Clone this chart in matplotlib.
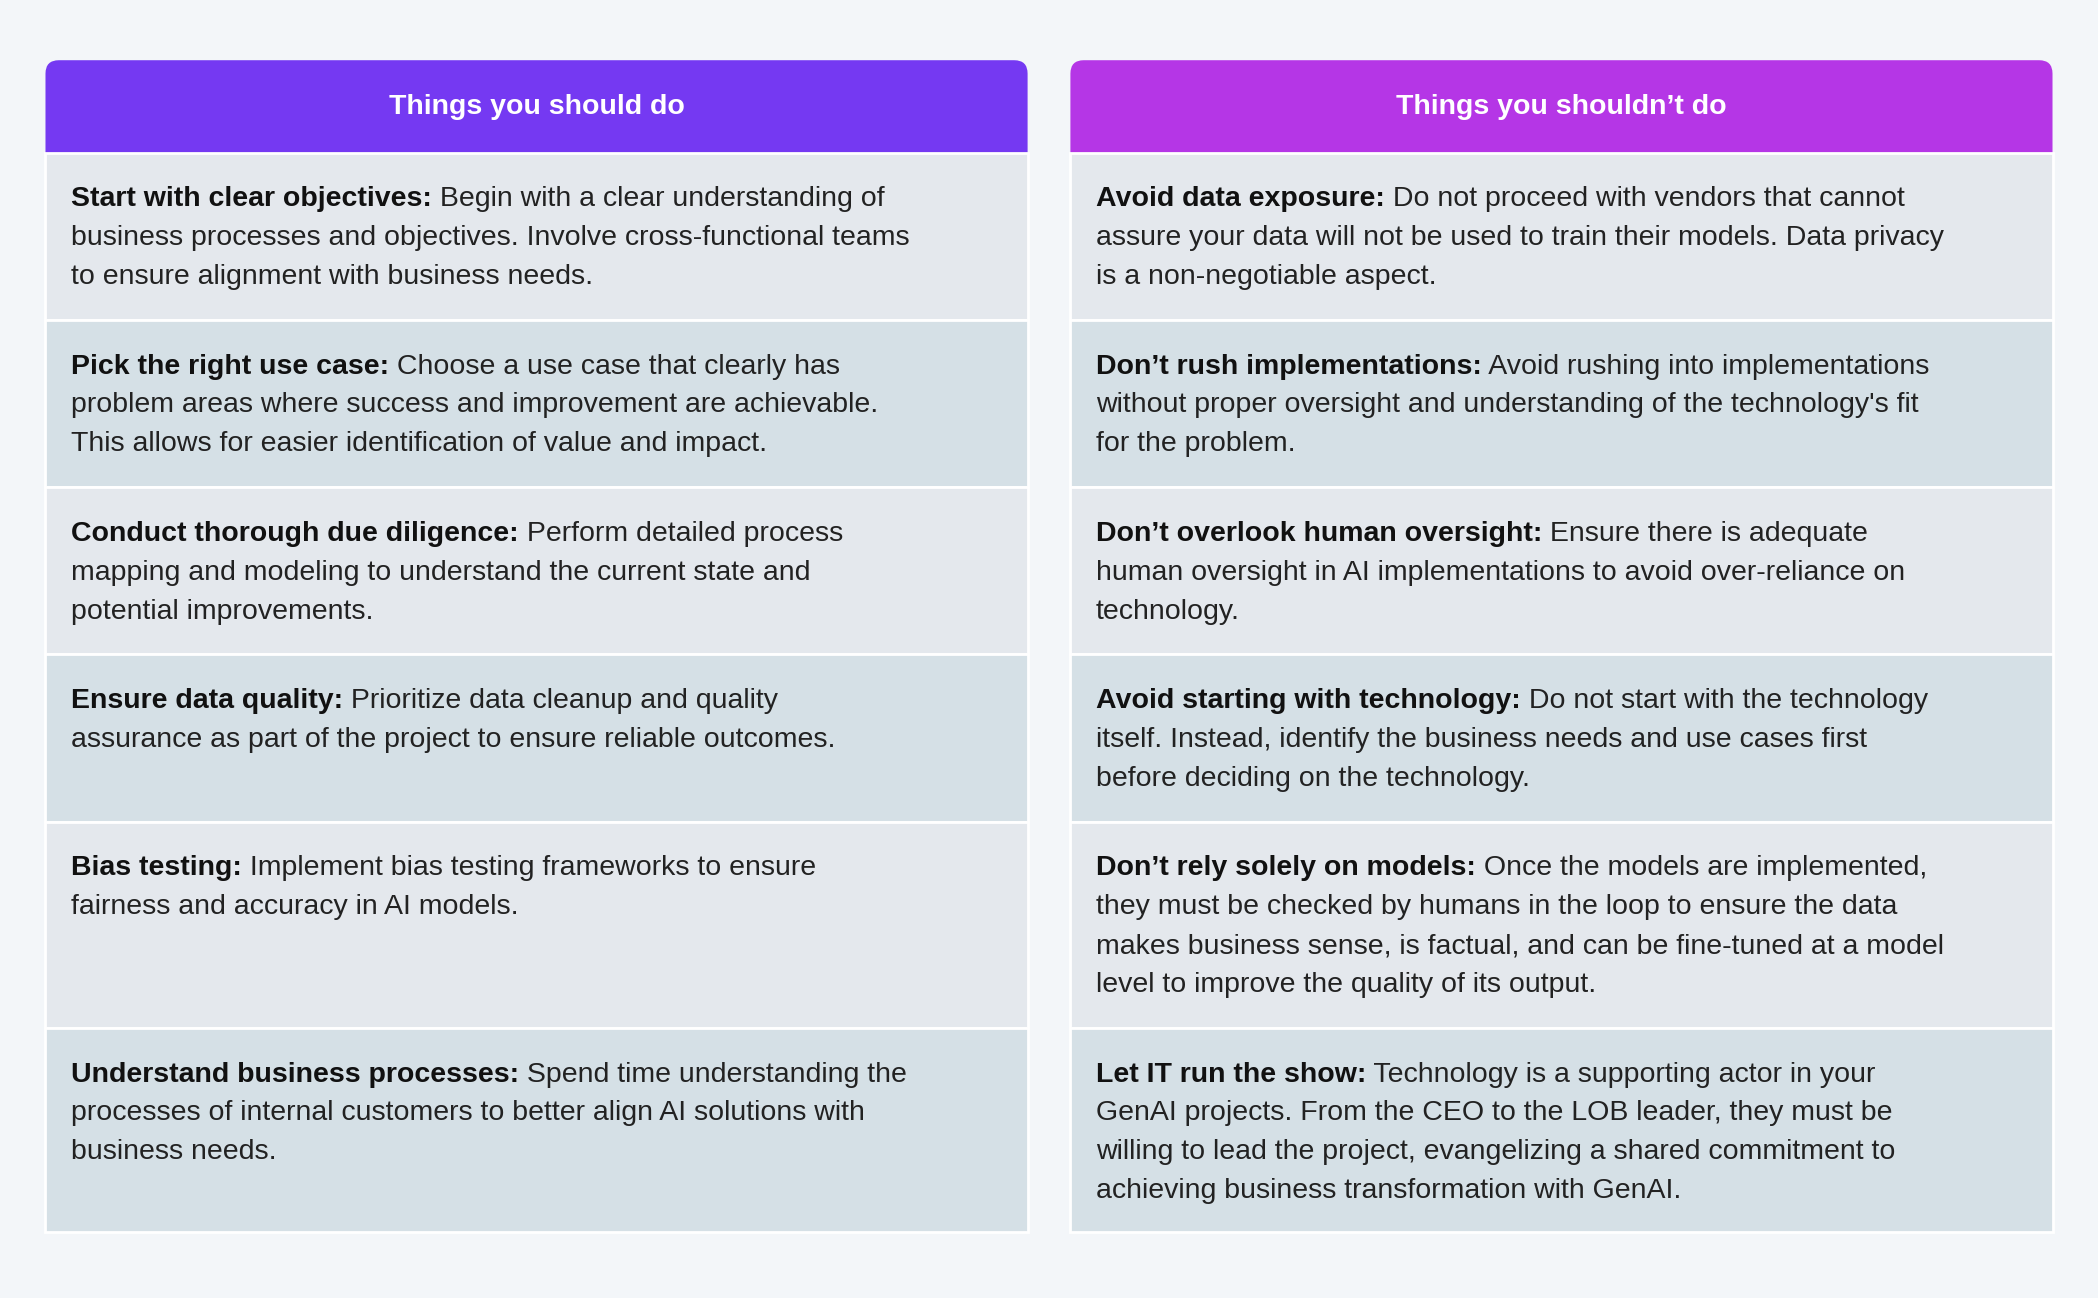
import matplotlib
matplotlib.use("Agg")
import matplotlib.pyplot as plt
from matplotlib.patches import FancyBboxPatch, Rectangle

W, H = 1568, 970
headers = ["Things you should do", "Things you shouldn\u2019t do"]
header_colors = ["#7539f2", "#b536e6"]
row_bounds = [114, 239, 364, 489, 614, 768, 921]
row_colors = ["#e4e8ed", "#d5e0e6"]

do_titles = ["Start with clear objectives:", "Pick the right use case:", "Conduct thorough due diligence:",
             "Ensure data quality:", "Bias testing:", "Understand business processes:"]
do_lines = [
    [" Begin with a clear understanding of", "business processes and objectives. Involve cross-functional teams", "to ensure alignment with business needs."],
    [" Choose a use case that clearly has", "problem areas where success and improvement are achievable.", "This allows for easier identification of value and impact."],
    [" Perform detailed process", "mapping and modeling to understand the current state and", "potential improvements."],
    [" Prioritize data cleanup and quality", "assurance as part of the project to ensure reliable outcomes."],
    [" Implement bias testing frameworks to ensure", "fairness and accuracy in AI models."],
    [" Spend time understanding the", "processes of internal customers to better align AI solutions with", "business needs."],
]
dont_titles = ["Avoid data exposure:", "Don\u2019t rush implementations:", "Don\u2019t overlook human oversight:",
               "Avoid starting with technology:", "Don\u2019t rely solely on models:", "Let IT run the show:"]
dont_lines = [
    [" Do not proceed with vendors that cannot", "assure your data will not be used to train their models. Data privacy", "is a non-negotiable aspect."],
    [" Avoid rushing into implementations", "without proper oversight and understanding of the technology's fit", "for the problem."],
    [" Ensure there is adequate", "human oversight in AI implementations to avoid over-reliance on", "technology."],
    [" Do not start with the technology", "itself. Instead, identify the business needs and use cases first", "before deciding on the technology."],
    [" Once the models are implemented,", "they must be checked by humans in the loop to ensure the data", "makes business sense, is factual, and can be fine-tuned at a model", "level to improve the quality of its output."],
    [" Technology is a supporting actor in your", "GenAI projects. From the CEO to the LOB leader, they must be", "willing to lead the project, evangelizing a shared commitment to", "achieving business transformation with GenAI."],
]

fig = plt.figure(figsize=(20.98, 12.98), dpi=100)
fig.patch.set_facecolor("#f3f6f9")
ax = fig.add_axes([0, 0, 1, 1])
ax.set_xlim(0, W); ax.set_ylim(H, 0); ax.axis("off")
FONT = "Liberation Sans"
FS = 20.5
renderer = fig.canvas.get_renderer()

cols = [(34, 768, do_titles, do_lines), (800, 1534, dont_titles, dont_lines)]
for ci, (x0, x1, titles, lines) in enumerate(cols):
    ax.add_patch(FancyBboxPatch((x0, 45), x1 - x0, 80, boxstyle="round,pad=0,rounding_size=10",
                                fc=header_colors[ci], ec="none"))
    ax.text((x0 + x1) / 2, 80, headers[ci], color="white", fontsize=FS, fontweight="bold",
            family=FONT, ha="center", va="center")
    for ri in range(6):
        y0, y1 = row_bounds[ri], row_bounds[ri + 1]
        ax.add_patch(Rectangle((x0, y0), x1 - x0, y1 - y0, fc=row_colors[ri % 2], ec="white", lw=2))
        ty = y0 + 35
        t = ax.text(x0 + 19, ty, titles[ri], fontsize=FS, fontweight="bold", family=FONT,
                    color="#111111", ha="left", va="center")
        bb = t.get_window_extent(renderer=renderer)
        xe = ax.transData.inverted().transform((bb.x1, bb.y0))[0]
        ax.text(xe, ty, lines[ri][0], fontsize=FS, family=FONT, color="#222222", ha="left", va="center")
        for li, ln in enumerate(lines[ri][1:], 1):
            ax.text(x0 + 19, ty + 29 * li, ln, fontsize=FS, family=FONT, color="#222222",
                    ha="left", va="center")

fig.savefig("out.png", dpi=100, facecolor=fig.get_facecolor())
